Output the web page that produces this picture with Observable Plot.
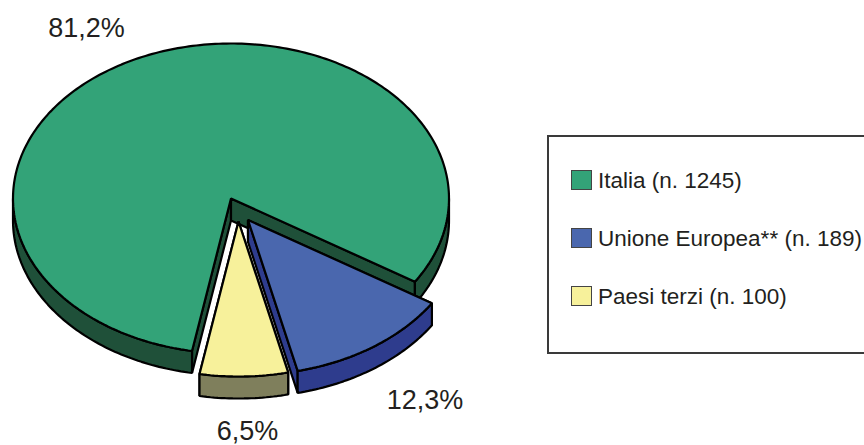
<!DOCTYPE html>
<html>
<head>
<meta charset="utf-8">
<script src="https://cdn.jsdelivr.net/npm/d3@7"></script>
<script src="https://cdn.jsdelivr.net/npm/@observablehq/plot@0.6"></script>
<style>
html,body{margin:0;padding:0;background:#fff;overflow:hidden;width:864px;height:445px}
#wrap{position:relative;width:864px;height:445px;overflow:hidden;font-family:"Liberation Sans",Arial,sans-serif;color:#231f20}
#wrap svg{position:absolute;left:0;top:0}
#legend{position:absolute;left:547px;top:135px;width:340px;height:215px;border:2px solid #3a3a3a;box-sizing:content-box}
.row{position:absolute;left:22px;display:flex;align-items:center;font-size:22.5px;white-space:nowrap;height:22px}
.sw{width:19px;height:18px;border:1px solid #444;margin-right:6px;flex:none}
.lb{position:relative;top:1px}
</style>
</head>
<body>
<div id="wrap"></div>
<script>
// Data
const categories = ["Italia", "Unione Europea**", "Paesi terzi"];
const counts = [1245, 189, 100];
const percentLabels = ["81,2%", "12,3%", "6,5%"];
const legendLabels = ["Italia (n. 1245)", "Unione Europea** (n. 189)", "Paesi terzi (n. 100)"];

// Style and layout
const topColors = ["#33a378", "#4a67ae", "#f7f19b"];
const sideColors = ["#1f5039", "#2e3c8d", "#7f7f5c"];
const W = 864, H = 445, CX = 230.5, CY = 198, RX = 218, RY = 155, DEPTH = 22;
const explodePx = [[0, 0], [17, 21.5], [7.5, 23]];
const labelPx = [[86, 27.5], [424.5, 399.5], [247, 430.5]];
const legendTops = [170, 228, 286];
const toRad = Math.PI / 180;
const startDeg = 100.3;

// Scales work in pie units: radius 1 on both axes of the ellipse
const ux = px => px / RX, uy = px => px / RY;
const depthU = uy(DEPTH);

const arcs = d3.pie().sort(null).startAngle(0).endAngle(2 * Math.PI)(counts)
  .map((a, i) => ({
    i,
    a0: startDeg * toRad + a.startAngle,
    a1: startDeg * toRad + a.endAngle,
    ox: ux(explodePx[i][0]),
    oy: uy(explodePx[i][1])
  }));

function arcPts(s, from, to) {
  const n = Math.max(2, Math.ceil(Math.abs(to - from) / (toRad * 1)));
  return d3.range(n + 1).map(k => {
    const t = from + (to - from) * k / n;
    return [s.ox + Math.cos(t), s.oy + Math.sin(t)];
  });
}
const poly = (pts, key, fill) => pts.map(([x, y]) => ({x, y, key, fill}));

const rows = [];
function addPoly(pts, key, fill) { rows.push(...poly(pts, key, fill)); }

// Visible outer wall intervals: angles whose sine is positive
function frontWalls(s) {
  const out = [];
  for (let k = 0; k < 3; k++) {
    const lo = Math.max(s.a0, k * 2 * Math.PI);
    const hi = Math.min(s.a1, k * 2 * Math.PI + Math.PI);
    if (hi > lo) out.push([lo, hi]);
  }
  return out;
}

arcs.forEach(s => {
  const side = sideColors[s.i], top = topColors[s.i];
  const tip = [s.ox, s.oy];
  const down = ([x, y]) => [x, y + depthU];
  const c0 = arcPts(s, s.a0, s.a0)[0], c1 = arcPts(s, s.a1, s.a1)[0];
  addPoly([tip, c0, down(c0), down(tip)], `w0-${s.i}`, side);
  addPoly([tip, c1, down(c1), down(tip)], `w1-${s.i}`, side);
  frontWalls(s).forEach(([lo, hi], j) => {
    const p = arcPts(s, lo, hi);
    addPoly([...p, ...p.slice().reverse().map(down)], `f${j}-${s.i}`, side);
  });
  addPoly([tip, ...arcPts(s, s.a0, s.a1)], `t-${s.i}`, top);
});

// draw order: Italia, Paesi terzi, Unione Europea
const order = ["0", "2", "1"];
const sorted = order.flatMap(o => {
  const here = rows.filter(r => r.key.endsWith("-" + o));
  const keys = [...new Set(here.map(r => r.key))];
  return keys.flatMap(k => here.filter(r => r.key === k));
});
const polyKeys = [...new Set(sorted.map(r => r.key))];

const labelRows = percentLabels.map((text, i) => ({
  text, x: ux(labelPx[i][0] - CX), y: uy(labelPx[i][1] - CY)
}));

const chart = Plot.plot({
  width: W, height: H,
  margin: 0,
  style: {background: "transparent", overflow: "visible"},
  x: {type: "linear", domain: [ux(-CX), ux(W - CX)], range: [0, W], axis: null},
  y: {type: "linear", domain: [uy(-CY), uy(H - CY)], range: [0, H], axis: null},
  marks: [
    ...polyKeys.map(k => Plot.line(sorted.filter(r => r.key === k), {
      x: "x", y: "y",
      curve: "linear-closed",
      fill: d => d.fill,
      stroke: "#000",
      strokeWidth: 2.2,
      strokeLinejoin: "miter"
    })),
    Plot.text(labelRows, {
      x: "x", y: "y", text: "text",
      fontSize: 27,
      fontFamily: "Liberation Sans, Arial, sans-serif",
      fill: "#231f20"
    })
  ]
});
const wrap = document.getElementById("wrap");
wrap.appendChild(chart);

const legend = document.createElement("div");
legend.id = "legend";
legendLabels.forEach((label, i) => {
  const row = document.createElement("div");
  row.className = "row";
  row.style.top = (legendTops[i] - 137 - 1) + "px";
  const sw = document.createElement("span");
  sw.className = "sw";
  sw.style.background = topColors[i];
  const t = document.createElement("span");
  t.className = "lb";
  t.textContent = label;
  row.append(sw, t);
  legend.appendChild(row);
});
wrap.appendChild(legend);
</script>
</body>
</html>
